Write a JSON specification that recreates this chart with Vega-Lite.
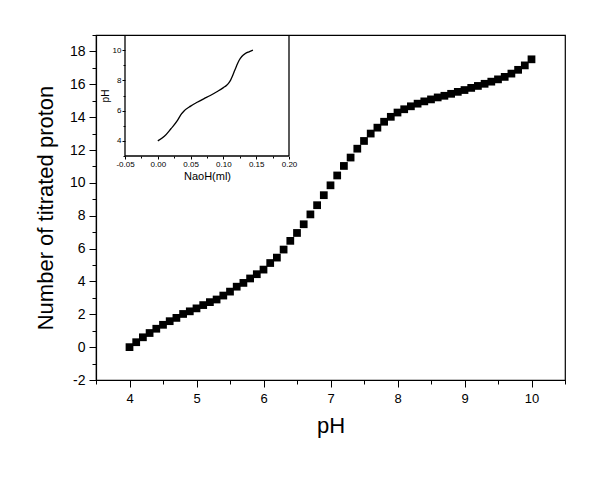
{
  "$schema": "https://vega.github.io/schema/vega-lite/v6.json",
  "width": 469,
  "height": 345,
  "autosize": {"type": "none"},
  "padding": {"left": 96, "top": 35, "right": 35, "bottom": 98},
  "background": "white",
  "config": {
    "font": "Liberation Sans",
    "view": {"stroke": "black", "strokeWidth": 1.2},
    "axis": {"grid": false, "domain": true, "domainColor": "black", "domainWidth": 1.2, "tickColor": "black", "tickWidth": 1, "labelColor": "black", "titleColor": "black", "labelFlush": false, "labelOverlap": false, "titleFontWeight": "normal", "labelFont": "Liberation Sans", "titleFont": "Liberation Sans"}
  },
  "datasets": {
    "titration": [
      {"pH": 4.0, "n": 0.0}, {"pH": 4.1, "n": 0.3}, {"pH": 4.2, "n": 0.6}, {"pH": 4.3, "n": 0.86}, {"pH": 4.4, "n": 1.12},
      {"pH": 4.5, "n": 1.36}, {"pH": 4.6, "n": 1.58}, {"pH": 4.7, "n": 1.78}, {"pH": 4.8, "n": 2.02}, {"pH": 4.9, "n": 2.18},
      {"pH": 5.0, "n": 2.36}, {"pH": 5.1, "n": 2.56}, {"pH": 5.2, "n": 2.74}, {"pH": 5.3, "n": 2.9}, {"pH": 5.4, "n": 3.14},
      {"pH": 5.5, "n": 3.38}, {"pH": 5.6, "n": 3.68}, {"pH": 5.7, "n": 3.91}, {"pH": 5.8, "n": 4.18}, {"pH": 5.9, "n": 4.44},
      {"pH": 6.0, "n": 4.72}, {"pH": 6.1, "n": 5.12}, {"pH": 6.2, "n": 5.45}, {"pH": 6.3, "n": 5.94}, {"pH": 6.4, "n": 6.47},
      {"pH": 6.5, "n": 6.95}, {"pH": 6.6, "n": 7.48}, {"pH": 6.7, "n": 8.08}, {"pH": 6.8, "n": 8.64}, {"pH": 6.9, "n": 9.25},
      {"pH": 7.0, "n": 9.85}, {"pH": 7.1, "n": 10.45}, {"pH": 7.2, "n": 11.03}, {"pH": 7.3, "n": 11.54}, {"pH": 7.4, "n": 12.08},
      {"pH": 7.5, "n": 12.55}, {"pH": 7.6, "n": 13.0}, {"pH": 7.7, "n": 13.36}, {"pH": 7.8, "n": 13.72}, {"pH": 7.9, "n": 14.02},
      {"pH": 8.0, "n": 14.28}, {"pH": 8.1, "n": 14.48}, {"pH": 8.2, "n": 14.66}, {"pH": 8.3, "n": 14.82}, {"pH": 8.4, "n": 14.96},
      {"pH": 8.5, "n": 15.08}, {"pH": 8.6, "n": 15.2}, {"pH": 8.7, "n": 15.3}, {"pH": 8.8, "n": 15.42}, {"pH": 8.9, "n": 15.54},
      {"pH": 9.0, "n": 15.65}, {"pH": 9.1, "n": 15.78}, {"pH": 9.2, "n": 15.9}, {"pH": 9.3, "n": 16.03}, {"pH": 9.4, "n": 16.16},
      {"pH": 9.5, "n": 16.3}, {"pH": 9.6, "n": 16.45}, {"pH": 9.7, "n": 16.65}, {"pH": 9.8, "n": 16.88}, {"pH": 9.9, "n": 17.15},
      {"pH": 10.0, "n": 17.52}
    ],
    "curve": [
      {"naoh": 0.0, "ph": 4.0}, {"naoh": 0.01, "ph": 4.3}, {"naoh": 0.02, "ph": 4.8}, {"naoh": 0.03, "ph": 5.35},
      {"naoh": 0.035, "ph": 5.72}, {"naoh": 0.04, "ph": 5.98}, {"naoh": 0.05, "ph": 6.3}, {"naoh": 0.06, "ph": 6.55},
      {"naoh": 0.07, "ph": 6.78}, {"naoh": 0.08, "ph": 7.0}, {"naoh": 0.09, "ph": 7.25}, {"naoh": 0.1, "ph": 7.52},
      {"naoh": 0.105, "ph": 7.68}, {"naoh": 0.108, "ph": 7.82}, {"naoh": 0.111, "ph": 8.02}, {"naoh": 0.114, "ph": 8.3},
      {"naoh": 0.117, "ph": 8.63}, {"naoh": 0.12, "ph": 8.95}, {"naoh": 0.124, "ph": 9.33}, {"naoh": 0.128, "ph": 9.58},
      {"naoh": 0.133, "ph": 9.76}, {"naoh": 0.139, "ph": 9.89}, {"naoh": 0.145, "ph": 10.0}
    ],
    "insetframe": [
      {"x": -0.05, "x2": -0.05, "y": 3, "y2": 11},
      {"x": 0.2, "x2": 0.2, "y": 3, "y2": 11},
      {"x": -0.05, "x2": 0.2, "y": 3, "y2": 3}
    ]
  },
  "layer": [
    {
      "data": {"name": "titration"},
      "mark": {"type": "point", "shape": "square", "filled": true, "color": "black", "size": 60, "opacity": 1},
      "encoding": {
        "x": {
          "field": "pH", "type": "quantitative",
          "scale": {"domain": [3.5, 10.5], "nice": false, "zero": false},
          "axis": {
            "title": "pH", "titleFontSize": 22, "titlePadding": 10,
            "values": [3.5, 4, 4.5, 5, 5.5, 6, 6.5, 7, 7.5, 8, 8.5, 9, 9.5, 10, 10.5],
            "labelExpr": "datum.value % 1 === 0 ? toString(datum.value) : ''",
            "labelFontSize": 13, "labelPadding": 5,
            "tickSize": {"condition": {"test": "datum.value % 1 === 0", "value": 7}, "value": 4}
          }
        },
        "y": {
          "field": "n", "type": "quantitative",
          "scale": {"domain": [-2, 19], "nice": false, "zero": false},
          "axis": {
            "title": "Number of titrated proton", "titleFontSize": 22, "titlePadding": 12,
            "values": [-2, -1, 0, 1, 2, 3, 4, 5, 6, 7, 8, 9, 10, 11, 12, 13, 14, 15, 16, 17, 18, 19],
            "labelExpr": "datum.value % 2 === 0 ? toString(datum.value) : ''",
            "labelFontSize": 14, "labelPadding": 4,
            "tickSize": {"condition": {"test": "datum.value % 2 === 0", "value": 7}, "value": 4}
          }
        }
      }
    },
    {
      "layer": [
        {
          "data": {"name": "curve"},
          "mark": {"type": "line", "color": "black", "strokeWidth": 1.3, "interpolate": "monotone"},
          "encoding": {
            "x": {
              "field": "naoh", "type": "quantitative",
              "scale": {"domain": [-0.05, 0.2], "range": [29, 193], "nice": false, "zero": false},
              "axis": {
                "orient": "bottom", "offset": -224, "domain": false,
                "title": "NaoH(ml)", "titleFontSize": 11, "titlePadding": 2,
                "values": [-0.05, -0.025, 0, 0.025, 0.05, 0.075, 0.1, 0.125, 0.15, 0.175, 0.2],
                "labelExpr": "round(datum.value * 1000) % 50 === 0 ? replace(format(datum.value, '.2f'), '\u2212', '-') : ''",
                "labelFontSize": 8, "labelPadding": 1,
                "tickSize": {"condition": {"test": "round(datum.value * 1000) % 50 === 0", "value": 3}, "value": 2}
              }
            },
            "y": {
              "field": "ph", "type": "quantitative",
              "scale": {"domain": [3, 11], "range": [121, 0], "nice": false, "zero": false},
              "axis": {
                "orient": "left", "offset": -29, "domain": false,
                "title": "pH", "titleFontSize": 10, "titlePadding": 2,
                "values": [3, 4, 5, 6, 7, 8, 9, 10, 11],
                "labelExpr": "datum.value % 2 === 0 ? datum.label : ''",
                "labelFontSize": 8, "labelPadding": 1,
                "tickSize": {"condition": {"test": "datum.value % 2 === 0", "value": 3}, "value": 2}
              }
            }
          }
        },
        {
          "data": {"name": "insetframe"},
          "mark": {"type": "rule", "color": "black", "strokeWidth": 1.3},
          "encoding": {
            "x": {"field": "x", "type": "quantitative"},
            "x2": {"field": "x2"},
            "y": {"field": "y", "type": "quantitative"},
            "y2": {"field": "y2"}
          }
        }
      ]
    }
  ],
  "resolve": {"scale": {"x": "independent", "y": "independent"}, "axis": {"x": "independent", "y": "independent"}}
}
